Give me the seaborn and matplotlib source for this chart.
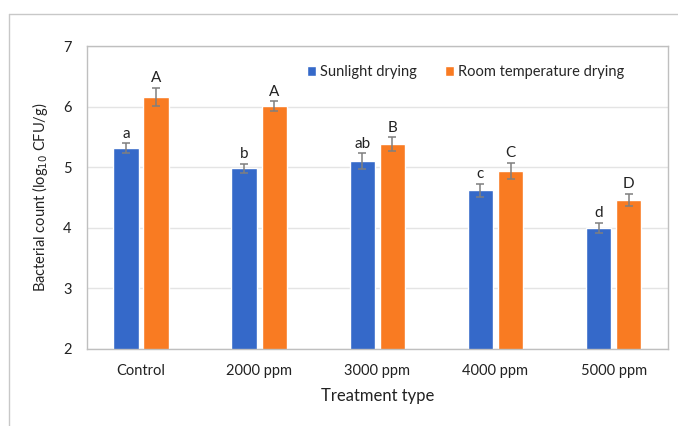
import matplotlib
matplotlib.use("Agg")
import matplotlib.pyplot as plt
import seaborn as sns
import pandas as pd
from matplotlib.lines import Line2D

# chart data
treatments = ['Control', '2000 ppm', '3000 ppm', '4000 ppm', '5000 ppm']
sunlight = [5.32, 4.98, 5.10, 4.62, 4.00]
sunlight_err = [0.08, 0.08, 0.13, 0.11, 0.08]
sunlight_letters = ['a', 'b', 'ab', 'c', 'd']
room = [6.16, 6.01, 5.38, 4.94, 4.46]
room_err = [0.15, 0.08, 0.11, 0.13, 0.10]
room_letters = ['A', 'A', 'B', 'C', 'D']
series = ['Sunlight drying', 'Room temperature drying']

df = pd.DataFrame({
    'Treatment': treatments * 2,
    'Count': sunlight + room,
    'Drying': [series[0]] * len(treatments) + [series[1]] * len(treatments),
})

sns.set_style('white')
plt.rcParams['font.family'] = ['Lato', 'DejaVu Sans']

fig = plt.figure(figsize=(6.78, 4.26), dpi=100)
ax = fig.add_axes([0.128, 0.181, 0.857, 0.711])

sns.barplot(data=df, x='Treatment', y='Count', hue='Drying',
            palette=['#3569C9', '#F97B22'], saturation=1, width=0.51, gap=0.16,
            errorbar=None, ax=ax, zorder=2)

# error bars and significance letters on top of each bar
for cont, errs, letters in zip(ax.containers, [sunlight_err, room_err],
                               [sunlight_letters, room_letters]):
    for bar, e, lab in zip(cont, errs, letters):
        cx = bar.get_x() + bar.get_width() / 2
        h = bar.get_height()
        ax.errorbar(cx, h, yerr=e, color='#7F7F7F', capsize=3, lw=1.1,
                    capthick=1.1, zorder=3)
        ax.text(cx, h + e + 0.04, lab, ha='center', va='bottom',
                fontsize=11, color='#222222')

ax.set_ylim(2, 7)
ax.set_yticks([2, 3, 4, 5, 6, 7])
ax.grid(axis='y', color='#E4E4E4', lw=1, zorder=0)
ax.set_axisbelow(True)
for s in ax.spines.values():
    s.set_color('#BFBFBF')
    s.set_linewidth(1)
ax.tick_params(axis='both', length=0, labelsize=10.5, colors='#222222')
ax.tick_params(axis='x', pad=11)
ax.tick_params(axis='y', pad=11)
ax.set_xlabel('Treatment type', fontsize=12, color='#222222', labelpad=7)
ax.set_ylabel('Bacterial count (log$_{10}$ CFU/g)', fontsize=10.5,
              color='#222222', labelpad=9)

ax.legend(loc='center', bbox_to_anchor=(0.652, 0.914), ncol=2, frameon=False,
          fontsize=10.5, handlelength=0.6, handleheight=0.7, handletextpad=0.3,
          columnspacing=1.9)

# outer chart frame (partly cropped in the reference)
fig.add_artist(Line2D([0.0133, 0.0133], [0.0, 0.967], color='#C8C8C8', lw=1))
fig.add_artist(Line2D([0.0133, 1.0], [0.967, 0.967], color='#C8C8C8', lw=1))

fig.savefig('out.png', dpi=100)
